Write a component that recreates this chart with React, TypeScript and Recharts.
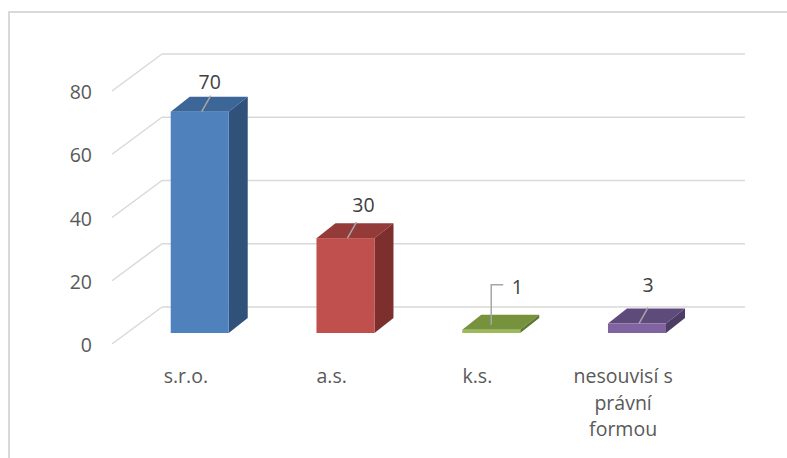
import { Bar, BarChart, CartesianGrid, LabelList, XAxis, YAxis } from "recharts";

// legal form of the company -> count
const categories = ["s.r.o.", "a.s.", "k.s.", "nesouvisí s právní formou"];
const counts = [70, 30, 1, 3];
const categoryLines = [["s.r.o."], ["a.s."], ["k.s."], ["nesouvisí s", "právní", "formou"]];
const yTicks = [0, 20, 40, 60, 80];

// front / top / side shades for each column
const faceColors = [
    { front: "#4f81bd", top: "#3c6697", side: "#30527a" },
    { front: "#c0504d", top: "#943a38", side: "#7c2f2d" },
    { front: "#9bbb59", top: "#76923c", side: "#5f7630" },
    { front: "#8064a2", top: "#5f4a7c", side: "#4d3c66" },
];

// where each value label sits relative to the top of its column
const labelOffsets = [
    { dx: 10, dy: -30, elbow: false },
    { dx: 18, dy: -33, elbow: false },
    { dx: 26, dy: -43, elbow: true },
    { dx: 11, dy: -39, elbow: false },
];

const data = categories.map((name, i) => ({ name, value: counts[i] }));

// depth of the columns and of the back wall
const DEPTH_X = 19;
const DEPTH_Y = 15;
const WALL_X = 35;
const WALL_Y = 26;
const FRONT_X = 15;
const FRONT_Y = 11;

const PLOT_LEFT = 127;
const PLOT_BOTTOM = 333;

const FONT = "'Open Sans', Lato, sans-serif";
const FONT_SIZE = 19.5;
const AXIS_TEXT = "#595959";
const GRID = "#d9d9d9";

function Column(props: any) {
    const { x, y, width, height, index } = props;
    const c = faceColors[index % faceColors.length];
    const r = x + width;
    const b = y + height;
    return (
        <g>
            <polygon
                points={`${x},${y} ${x + DEPTH_X},${y - DEPTH_Y} ${r + DEPTH_X},${y - DEPTH_Y} ${r},${y}`}
                fill={c.top}
            />
            <polygon
                points={`${r},${y} ${r + DEPTH_X},${y - DEPTH_Y} ${r + DEPTH_X},${b - DEPTH_Y} ${r},${b}`}
                fill={c.side}
            />
            <rect x={x} y={y} width={width} height={height} fill={c.front} />
        </g>
    );
}

function WallLine(props: any) {
    const { x1, x2, y1 } = props;
    return (
        <g key={props.key}>
            <line x1={x1 + WALL_X} y1={y1 - WALL_Y} x2={x2 + WALL_X} y2={y1 - WALL_Y} stroke={GRID} strokeWidth={1.5} />
            <line x1={x1 - FRONT_X} y1={y1 + FRONT_Y} x2={x1 + WALL_X} y2={y1 - WALL_Y} stroke={GRID} strokeWidth={1.5} />
        </g>
    );
}

function ValueTick(props: any) {
    const { y, payload } = props;
    return (
        <text x={PLOT_LEFT - 35} y={y + FRONT_Y + 8} textAnchor="end" fontFamily={FONT} fontSize={FONT_SIZE} fill={AXIS_TEXT}>
            {payload.value}
        </text>
    );
}

function CategoryTick(props: any) {
    const { x, index } = props;
    const lines = categoryLines[index] ?? [props.payload.value];
    return (
        <text x={x - 14} y={PLOT_BOTTOM + 50} textAnchor="middle" fontFamily={FONT} fontSize={FONT_SIZE} fill={AXIS_TEXT}>
            {lines.map((line, i) => (
                <tspan key={i} x={x - 14} dy={i === 0 ? 0 : 26.5}>
                    {line}
                </tspan>
            ))}
        </text>
    );
}

function ValueLabel(props: any) {
    const { x, y, width, value, index } = props;
    const o = labelOffsets[index];
    const cx = x + width / 2;
    const tx = cx + o.dx;
    const ty = y + o.dy;
    const leader = o.elbow
        ? `M${cx},${y - 5} L${cx},${ty - 2} L${tx - 14},${ty - 2}`
        : `M${cx + 2},${y} L${cx + 11},${y - 16}`;
    return (
        <g>
            <path d={leader} fill="none" stroke="#a6a6a6" strokeWidth={1.5} />
            <text x={tx} y={ty + 7} textAnchor="middle" fontFamily={FONT} fontSize={FONT_SIZE} fill="#404040">
                {value}
            </text>
        </g>
    );
}

export default function App() {
    return (
        <div style={{ position: "absolute", left: 0, top: 0, width: 787, height: 458, overflow: "hidden", background: "#fff" }}>
            <div
                style={{
                    position: "absolute",
                    left: 8,
                    top: 11,
                    width: 900,
                    height: 600,
                    border: "2px solid #d9d9d9",
                }}
            />
            <div style={{ position: "absolute", left: 0, top: 0 }}>
                <BarChart
                    width={787}
                    height={458}
                    data={data}
                    margin={{ top: 80, right: 77, bottom: 0, left: 0 }}
                    barCategoryGap="30%"
                >
                    <CartesianGrid vertical={false} horizontal={WallLine} />
                    <XAxis
                        dataKey="name"
                        height={458 - PLOT_BOTTOM}
                        axisLine={false}
                        tickLine={false}
                        interval={0}
                        tick={<CategoryTick />}
                    />
                    <YAxis
                        width={PLOT_LEFT}
                        domain={[0, 80]}
                        ticks={yTicks}
                        axisLine={false}
                        tickLine={false}
                        tick={<ValueTick />}
                    />
                    <Bar dataKey="value" shape={Column} isAnimationActive={false}>
                        <LabelList dataKey="value" content={ValueLabel} />
                    </Bar>
                </BarChart>
            </div>
        </div>
    );
}
